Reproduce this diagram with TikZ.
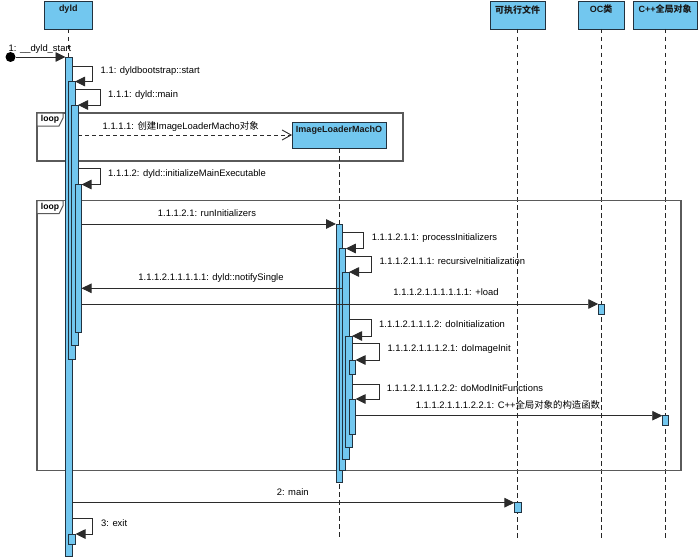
\documentclass[tikz,border=0pt]{standalone}
\usepackage{fontspec}
\setmainfont{Liberation Sans}
\newfontfamily\cjk{Noto Sans CJK SC}
\usetikzlibrary{arrows.meta}
\definecolor{barfill}{HTML}{72C7EF}
\definecolor{edge}{HTML}{22323F}
\definecolor{framec}{HTML}{5A5A5A}
\definecolor{msgc}{HTML}{2B2B2B}
\begin{document}
\begin{tikzpicture}[x=1pt,y=-1pt,
 headbox/.style={draw=edge, fill=barfill, line width=0.9pt, anchor=north west, inner sep=0pt, outer sep=0pt},
 headtxt/.style={anchor=north, inner sep=0pt, yshift=-4pt, font=\fontsize{9}{10}\selectfont\bfseries, text=black!90},
 life/.style={draw=black!85, line width=0.8pt, dash pattern=on 4.5pt off 3.5pt},
 frame/.style={draw=framec, line width=1.1pt, anchor=north west, inner sep=0pt, outer sep=0pt},
 tab/.style={draw=framec, line width=1pt, fill=white},
 tabtxt/.style={font=\fontsize{8.6}{10}\selectfont\bfseries, inner sep=0pt},
 bar/.style={draw=edge, fill=barfill, line width=0.8pt, minimum width=6.5pt, inner sep=0pt, outer sep=0pt, anchor=north},
 msg/.style={draw=msgc, line width=0.9pt, -{Triangle[length=10pt,width=9.5pt]}},
 create/.style={draw=msgc, line width=0.9pt, dash pattern=on 4pt off 3pt, -{Straight Barb[length=9pt,width=10pt]}},
 lbl/.style={font=\fontsize{9.4}{11}\selectfont, inner sep=0pt, text height=7pt, text depth=2pt},
]
\useasboundingbox (0,0) rectangle (700,559);
% headers
\node[headbox, minimum width=47.5pt, minimum height=28pt] (hdyld) at (44.5,1) {};
\node[headtxt] (tdyld) at (hdyld.north) {dyld};
\node[headbox, minimum width=55pt, minimum height=28pt] (hexe) at (490,1) {};
\node[headtxt] (texe) at (hexe.north) {\cjk 可执行文件};
\node[headbox, minimum width=46pt, minimum height=28pt] (hoc) at (578,1) {};
\node[headtxt] (toc) at (hoc.north) {OC{\cjk 类}};
\node[headbox, minimum width=64pt, minimum height=28pt] (hcpp) at (633,1) {};
\node[headtxt] (tcpp) at (hcpp.north) {C++{\cjk 全局对象}};
% lifelines
\draw[life] (hdyld.south) -- (hdyld.south |- 0,540);
\draw[life] (hexe.south) -- (hexe.south |- 0,540);
\draw[life] (hoc.south) -- (hoc.south |- 0,540);
\draw[life] (hcpp.south) -- (hcpp.south |- 0,540);
% loop frames
\node[frame, minimum width=366pt, minimum height=48pt] (loop1) at (37,113) {};
\draw[tab] (loop1.north west) -- ++(26,0) -- ++(0,5) -- ++(-4,8) -- ++(-22,0) -- cycle;
\node[tabtxt] (tag1) at (50,119.5) {loop};
\node[frame, minimum width=644pt, minimum height=270pt] (loop2) at (37,200.7) {};
\draw[tab] (loop2.north west) -- ++(26,0) -- ++(0,5) -- ++(-4,8) -- ++(-22,0) -- cycle;
\node[tabtxt] (tag2) at (50,207.2) {loop};
% created object
\node[headbox, minimum width=94pt, minimum height=26pt] (hil) at (292,122) {};
\node[headtxt] (til) at (hil.north) {ImageLoaderMachO};
\draw[life] (hil.south) -- (hil.south |- 0,540);
% activation bars
\node[bar, minimum height=499pt] (d1) at (68.75,57) {};
\node[bar, minimum height=277.5pt] (d2) at (71.75,81.5) {};
\node[bar, minimum height=240pt] (d3) at (74.75,105) {};
\node[bar, minimum height=148pt] (d4) at (78.25,184.5) {};
\node[bar, minimum width=7pt, minimum height=10pt] (d5) at (72,534) {};
\node[bar, minimum height=258pt] (i1) at (339.25,224) {};
\node[bar, minimum height=222pt] (i2) at (342.5,248.5) {};
\node[bar, minimum height=187pt] (i3) at (345.75,272) {};
\node[bar, minimum height=111.5pt] (i4) at (348.75,336) {};
\node[bar, minimum height=14pt] (i5) at (352.25,360) {};
\node[bar, minimum height=35pt] (i6) at (352.25,399) {};
\node[bar, minimum height=10pt] (boc) at (601.5,304) {};
\node[bar, minimum height=9.5pt] (bcpp) at (665.5,415.7) {};
\node[bar, minimum height=9.5pt] (bexe) at (517.7,502.7) {};
% messages
\node[circle, fill=black, minimum size=10pt, inner sep=0pt] (start) at (10.5,57) {};
\draw[msg] (start) -- (d1.north west);
\node[lbl] (l1) at (40,49) {1: \_\_dyld\_start};
\draw[msg] (d1.east |- 0,66) -| (92,81.5) -- (d2.north east);
\node[lbl, anchor=west] (l2) at (100.5,71) {1.1: dyldbootstrap::start};
\draw[msg] (d2.east |- 0,89.3) -| (100,105) -- (d3.north east);
\node[lbl, anchor=west] (l3) at (108,95) {1.1.1: dyld::main};
\draw[create] (d3.east |- hil.west) -- (hil.west);
\node[lbl] (l4) at (180.7,127.3) {1.1.1.1: {\cjk 创建}ImageLoaderMacho{\cjk 对象}};
\draw[msg] (d3.east |- 0,168.3) -| (100,184.5) -- (d4.north east);
\node[lbl, anchor=west] (l5) at (108,174) {1.1.1.2: dyld::initializeMainExecutable};
\draw[msg] (d4.east |- i1.north) -- (i1.north west);
\node[lbl] (l6) at (207,214) {1.1.1.2.1: runInitializers};
\draw[msg] (i1.east |- 0,232.3) -| (363,248.5) -- (i2.north east);
\node[lbl, anchor=west] (l7) at (371.7,237.7) {1.1.1.2.1.1: processInitializers};
\draw[msg] (i2.east |- 0,256) -| (371,272) -- (i3.north east);
\node[lbl, anchor=west] (l8) at (379.3,261.7) {1.1.1.2.1.1.1: recursiveInitialization};
\draw[msg] (i3.west |- 0,288.3) -- (d4.east |- 0,288.3);
\node[lbl] (l9) at (211,277.7) {1.1.1.2.1.1.1.1.1: dyld::notifySingle};
\draw[msg] (d4.east |- boc.north) -- (boc.north west);
\node[lbl] (l10) at (446,293.3) {1.1.1.2.1.1.1.1.1.1: +load};
\draw[msg] (i3.east |- 0,319.3) -| (371,336) -- (i4.north east);
\node[lbl, anchor=west] (l11) at (379,325.3) {1.1.1.2.1.1.1.2: doInitialization};
\draw[msg] (i4.east |- 0,343.7) -| (379,360) -- (i5.north east);
\node[lbl, anchor=west] (l12) at (387.3,349) {1.1.1.2.1.1.1.2.1: doImageInit};
\draw[msg] (i4.east |- 0,384) -| (379,399) -- (i6.north east);
\node[lbl, anchor=west] (l13) at (386.7,389) {1.1.1.2.1.1.1.2.2: doModInitFunctions};
\draw[msg] (i6.east |- bcpp.north) -- (bcpp.north west);
\node[lbl] (l14) at (508,405.7) {1.1.1.2.1.1.1.2.2.1: C++{\cjk 全局对象的构造函数}};
\draw[msg] (d1.east |- bexe.north) -- (bexe.north west);
\node[lbl, anchor=west] (l15) at (276.7,493.3) {2: main};
\draw[msg] (d1.east |- 0,518.3) -| (92.7,534) -- (d5.north east);
\node[lbl, anchor=west] (l16) at (101,524) {3: exit};
\end{tikzpicture}
\end{document}
